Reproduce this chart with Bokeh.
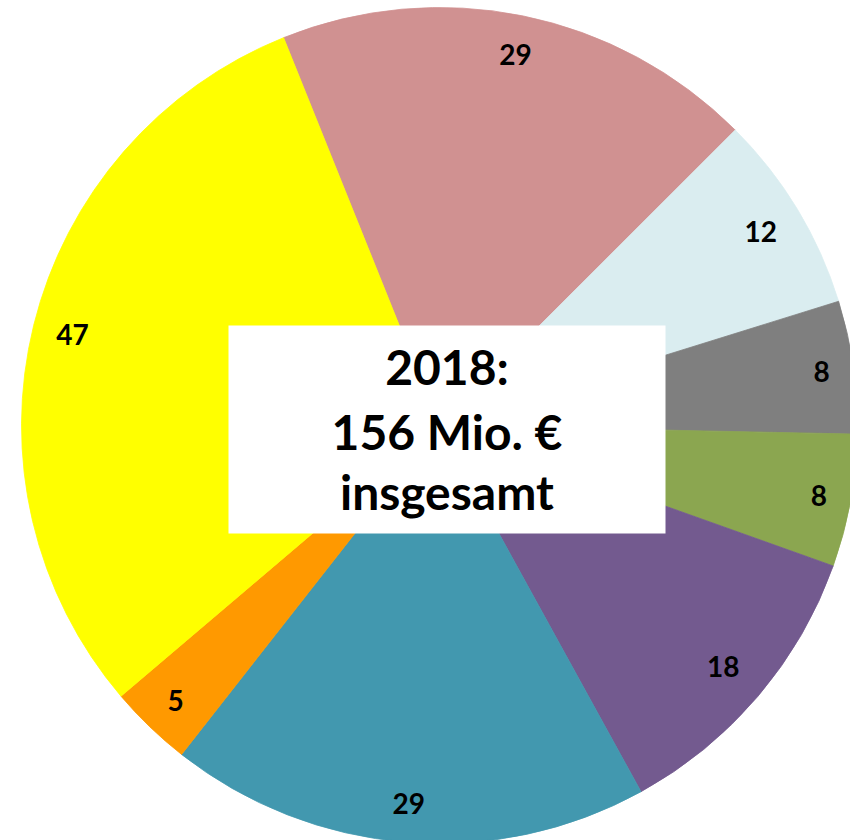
import math
from bokeh.plotting import figure
from bokeh.models import Range1d, ColumnDataSource
from bokeh.core.properties import value
from bokeh.embed import file_html
from bokeh.resources import INLINE

# ---- data ----
values = [29, 12, 8, 8, 18, 29, 5, 47]
labels = ["29", "12", "8", "8", "18", "29", "5", "47"]
colors = ["#D09191", "#DAEDF0", "#7F7F7F", "#8BA650", "#735A8F", "#4298AF", "#FF9900", "#FFFF00"]
title_lines = ["2018:", "156 Mio. €", "insgesamt"]

# ---- layout ----
W, H = 850, 840
CX, CY = 439, H - 425
R = 418
START = 90 + 21.9          # start edge of first slice (deg, math convention)
LABEL_PX = 28
LABEL_SHIFT = 0            # baseline offset (px) relative to label centre
TITLE_PX = 48

total = sum(values)
starts, ends, lx, ly = [], [], [], []
acc = 0
for v, lab in zip(values, labels):
    a0 = START - acc / total * 360
    a1 = START - (acc + v) / total * 360
    acc += v
    starts.append(math.radians(a0))
    ends.append(math.radians(a1))
    mid = math.radians((a0 + a1) / 2)
    c, s = abs(math.cos(mid)), abs(math.sin(mid))
    hw = 7.5 * len(lab) + 4
    hh = 18.5
    d = min(hw / c if c > 1e-6 else 1e9, hh / s if s > 1e-6 else 1e9)
    rl = R - 20.5 - d
    lx.append(CX + rl * math.cos(mid))
    ly.append(CY + rl * math.sin(mid) + LABEL_SHIFT)

src = ColumnDataSource(dict(start=starts, end=ends, color=colors))
lsrc = ColumnDataSource(dict(x=lx, y=ly, text=labels))

p = figure(width=W, height=H, output_backend="svg", toolbar_location=None,
           x_range=Range1d(0, W), y_range=Range1d(0, H),
           x_axis_location=None, y_axis_location=None, min_border=0)
p.grid.visible = False
p.outline_line_color = None
p.background_fill_color = "white"
p.border_fill_color = "white"

p.wedge(x=CX, y=CY, radius=R, start_angle="start", end_angle="end",
        direction="clock", fill_color="color", line_color="color",
        line_width=0.8, source=src)

p.text(x="x", y="y", text="text", source=lsrc, text_align="center",
       text_baseline="alphabetic", text_font=value("Lato"),
       text_font_style="bold", text_font_size=f"{LABEL_PX}px", text_color="black")

# center box
p.quad(left=228, right=665, top=H - 325, bottom=H - 533,
       fill_color="white", line_color=None)
baselines = [H - 366, H - 431, H - 491]
p.text(x=[446.5] * 3, y=baselines, text=title_lines, text_align="center",
       text_baseline="alphabetic", text_font=value("Lato"),
       text_font_style="bold", text_font_size=f"{TITLE_PX}px", text_color="black")

open("out.html", "w").write(file_html(p, INLINE))
